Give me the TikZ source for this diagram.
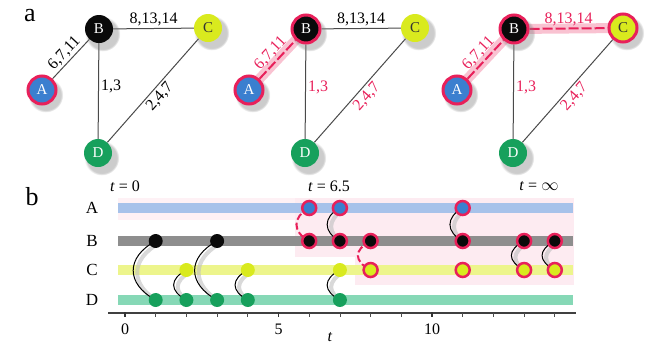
\documentclass[tikz,border=0pt]{standalone}
\usepackage{fontspec}
\setmainfont{Liberation Serif}
\usetikzlibrary{shadows}
\definecolor{cA}{HTML}{3B7FCF}
\definecolor{cB}{HTML}{0A0A0A}
\definecolor{cC}{HTML}{D9EA1E}
\definecolor{cD}{HTML}{17A05C}
\definecolor{ring}{HTML}{E8205A}
\definecolor{glow}{HTML}{F7B3C6}
\definecolor{pinkbg}{HTML}{FDEBF1}
\definecolor{pinkfaint}{HTML}{FEF1F5}
\definecolor{barA}{HTML}{A7C2EA}
\definecolor{barB}{HTML}{8E8E8E}
\definecolor{barC}{HTML}{EDF58C}
\definecolor{barD}{HTML}{86D8B6}
\definecolor{edgegray}{HTML}{4A4A4A}
\pgfdeclarelayer{back}
\pgfdeclarelayer{mid}
\pgfsetlayers{back,mid,main}
\tikzset{
  gnode/.style={circle, minimum size=28pt, inner sep=0pt, font=\fontsize{15}{15}\selectfont, text=white,
    circular drop shadow={shadow xshift=3pt, shadow yshift=-4pt, shadow scale=1.25, opacity=0.4}},
  nA/.style={gnode, fill=cA},
  nB/.style={gnode, fill=cB},
  nC/.style={gnode, fill=cC, text=black!80},
  nD/.style={gnode, fill=cD},
  inf/.style={draw=ring, line width=3pt},
  gedge/.style={draw=edgegray, line width=1pt},
  redge/.style={draw=ring, line width=2pt, dash pattern=on 10pt off 3pt},
  glowedge/.style={draw=glow, line width=10pt, line cap=round, opacity=0.8},
  elab/.style={font=\fontsize{16}{16}\selectfont, inner sep=2pt},
  rlab/.style={elab, text=ring},
  dot/.style={circle, minimum size=14pt, inner sep=0pt},
  dA/.style={dot, fill=cA},
  dB/.style={dot, fill=cB},
  dC/.style={dot, fill=cC},
  dD/.style={dot, fill=cD},
  dinf/.style={draw=ring, line width=2.5pt},
  conn/.style={draw=black, line width=1pt},
  connshadow/.style={draw=black!25, line width=4pt, opacity=0.6},
  rconn/.style={draw=ring, line width=2pt, dash pattern=on 7pt off 3pt},
  bar/.style={line width=10pt},
  rowlab/.style={font=\fontsize{17}{17}\selectfont},
  ticklab/.style={font=\fontsize{16}{16}\selectfont},
  panellab/.style={font=\fontsize{26}{26}\selectfont},
  axisline/.style={draw=black!75, line width=1.3pt},
}
\begin{document}
\begin{tikzpicture}[x=1pt,y=1pt]
\useasboundingbox (0,0) rectangle (647,-346);

% ---------- panel a ----------
\node[panellab] (la) at (30,-16) {a};

% graph 1
\node[nA, inf] (A1) at (42,-90) {A};
\node[nB] (B1) at (99,-29) {B};
\node[nC] (C1) at (208,-28) {C};
\node[nD] (D1) at (98,-153) {D};
\begin{pgfonlayer}{mid}
\draw[gedge] (A1) -- node[elab, sloped, above] {6,7,11} (B1);
\draw[gedge] (B1) -- node[elab, above] {8,13,14} (C1);
\draw[gedge] (B1) -- node[elab, right, pos=0.45] {1,3} (D1);
\draw[gedge] (D1) -- node[elab, sloped, below] {2,4,7} (C1);
\end{pgfonlayer}

% graph 2
\node[nA, inf] (A2) at (249,-90) {A};
\node[nB, inf] (B2) at (306,-29) {B};
\node[nC] (C2) at (415,-28) {C};
\node[nD] (D2) at (305,-153) {D};
\begin{pgfonlayer}{mid}
\draw[glowedge] (A2.center) -- (B2.center);
\draw[redge] (A2) -- node[rlab, sloped, above] {6,7,11} (B2);
\draw[gedge] (B2) -- node[elab, above] {8,13,14} (C2);
\draw[gedge] (B2) -- node[rlab, right, pos=0.45] {1,3} (D2);
\draw[gedge] (D2) -- node[rlab, sloped, below] {2,4,7} (C2);
\end{pgfonlayer}

% graph 3
\node[nA, inf] (A3) at (457,-90) {A};
\node[nB, inf] (B3) at (514,-29) {B};
\node[nC, inf] (C3) at (623,-28) {C};
\node[nD] (D3) at (513,-153) {D};
\begin{pgfonlayer}{mid}
\draw[glowedge] (A3.center) -- (B3.center);
\draw[glowedge] (B3.center) -- (C3.center);
\draw[redge] (A3) -- node[rlab, sloped, above] {6,7,11} (B3);
\draw[redge] (B3) -- node[rlab, above] {8,13,14} (C3);
\draw[gedge] (B3) -- node[rlab, right, pos=0.45] {1,3} (D3);
\draw[gedge] (D3) -- node[rlab, sloped, below] {2,4,7} (C3);
\end{pgfonlayer}

% ---------- panel b ----------
\node[panellab] (lb) at (32,-197) {b};
\node[ticklab] (t0) at (125,-186) {\textit{t} = 0};
\node[ticklab] (t65) at (329,-186) {\textit{t} = 6.5};
\node[ticklab] (tinf) at (539,-186) {\textit{t} = \ensuremath{\infty}};

\node[rowlab] (rA) at (92,-208) {A};
\node[rowlab] (rB) at (92,-241) {B};
\node[rowlab] (rC) at (92,-270) {C};
\node[rowlab] (rD) at (92,-300) {D};

\begin{pgfonlayer}{back}
\fill[pinkfaint] (118,-198) rectangle (574,-220);
\fill[pinkbg] (295,-198) rectangle (574,-257);
\fill[pinkbg] (355,-257) rectangle (574,-285);
\draw[bar, barA] (118,-208) -- (573,-208);
\draw[bar, barB] (118,-241) -- (573,-241);
\draw[bar, barC] (118,-270) -- (573,-270);
\draw[bar, barD] (118,-300) -- (573,-300);
\end{pgfonlayer}

% axis
\draw[axisline] (108,-313) -- (576,-313);
\foreach \t in {1,2,3,4,6,7,8,9,11,12,13,14}
  \draw[black!70, line width=0.8pt] ({125+30.7*\t},-313) -- ++(0,-3.5);
\foreach \t in {0,5,10}
  \draw[black!80, line width=1.8pt] ({125+30.7*\t},-312) -- ++(0,-4.5);
\node[ticklab] (x0) at (125,-329) {0};
\node[ticklab] (x5) at ({125+30.7*5},-329) {5};
\node[ticklab] (x10) at ({125+30.7*10},-329) {10};
\node[ticklab, inner sep=1pt] (xt) at (330,-337) {\textit{t}};

% dots
\node[dB] (b1) at ({125+30.7*1},-241) {};
\node[dD] (d1) at ({125+30.7*1},-300) {};
\node[dC] (c2) at ({125+30.7*2},-270) {};
\node[dD] (d2) at ({125+30.7*2},-300) {};
\node[dB] (b3) at ({125+30.7*3},-241) {};
\node[dD] (d3) at ({125+30.7*3},-300) {};
\node[dC] (c4) at ({125+30.7*4},-270) {};
\node[dD] (d4) at ({125+30.7*4},-300) {};
\node[dA, dinf] (a6) at ({125+30.7*6},-208) {};
\node[dB, dinf] (b6) at ({125+30.7*6},-241) {};
\node[dA, dinf] (a7) at ({125+30.7*7},-208) {};
\node[dB, dinf] (b7) at ({125+30.7*7},-241) {};
\node[dC] (c7) at ({125+30.7*7},-270) {};
\node[dD] (d7) at ({125+30.7*7},-300) {};
\node[dB, dinf] (b8) at ({125+30.7*8},-241) {};
\node[dC, dinf] (c8) at ({125+30.7*8},-270) {};
\node[dA, dinf] (a11) at ({125+30.7*11},-208) {};
\node[dB, dinf] (b11) at ({125+30.7*11},-241) {};
\node[dC, dinf] (c11) at ({125+30.7*11},-270) {};
\node[dB, dinf] (b13) at ({125+30.7*13},-241) {};
\node[dC, dinf] (c13) at ({125+30.7*13},-270) {};
\node[dB, dinf] (b14) at ({125+30.7*14},-241) {};
\node[dC, dinf] (c14) at ({125+30.7*14},-270) {};

% connectors
\begin{pgfonlayer}{mid}
\foreach \u/\v in {b1/d1, b3/d3}{
  \draw[connshadow] ([shift={(4,-2)}]\u.center) .. controls +(-30,-16) and +(-30,16) .. ([shift={(4,-2)}]\v.center);
  \draw[conn] (\u.center) .. controls +(-30,-16) and +(-30,16) .. (\v.center);
}
\foreach \u/\v in {c2/d2, c4/d4, a7/b7, c7/d7, a11/b11, b13/c13, b14/c14}{
  \draw[connshadow] ([shift={(4,-2)}]\u.center) .. controls +(-17,-9) and +(-17,9) .. ([shift={(4,-2)}]\v.center);
  \draw[conn] (\u.center) .. controls +(-17,-9) and +(-17,9) .. (\v.center);
}
\draw[rconn] (a6.center) .. controls +(-17,-9) and +(-17,9) .. (b6.center);
\draw[rconn] (b8.center) .. controls +(-17,-9) and +(-17,9) .. (c8.center);
\end{pgfonlayer}
\end{tikzpicture}
\end{document}
